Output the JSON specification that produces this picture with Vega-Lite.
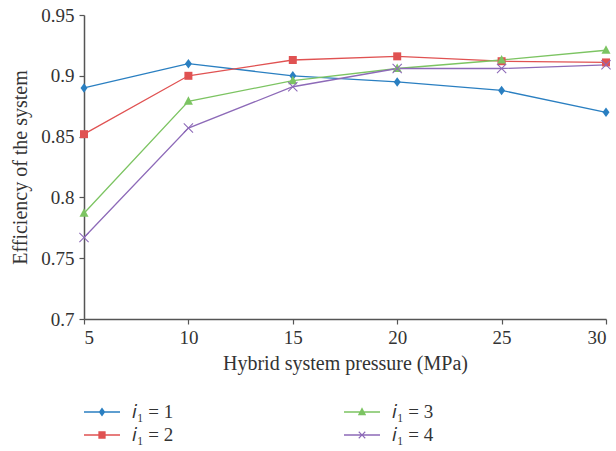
{
  "$schema": "https://vega.github.io/schema/vega-lite/v6.json",
  "width": 522,
  "height": 304,
  "autosize": {"type": "none"},
  "padding": {"left": 84, "top": 15, "right": 10, "bottom": 132},
  "background": "white",
  "config": {
    "view": {"stroke": null},
    "font": "Liberation Serif",
    "axis": {
      "labelFont": "Liberation Serif",
      "titleFont": "Liberation Serif",
      "labelFontSize": 19,
      "titleFontSize": 20,
      "labelColor": "#333333",
      "titleColor": "#333333",
      "titleFontWeight": "normal",
      "domainColor": "#555555",
      "domainWidth": 1.5,
      "tickColor": "#555555",
      "tickWidth": 1.2,
      "tickSize": 5,
      "grid": false
    }
  },
  "data": {
    "values": [
      {"p": 5, "eff": 0.890, "series": "i1 = 1"},
      {"p": 10, "eff": 0.910, "series": "i1 = 1"},
      {"p": 15, "eff": 0.900, "series": "i1 = 1"},
      {"p": 20, "eff": 0.895, "series": "i1 = 1"},
      {"p": 25, "eff": 0.888, "series": "i1 = 1"},
      {"p": 30, "eff": 0.870, "series": "i1 = 1"},
      {"p": 5, "eff": 0.852, "series": "i1 = 2"},
      {"p": 10, "eff": 0.900, "series": "i1 = 2"},
      {"p": 15, "eff": 0.913, "series": "i1 = 2"},
      {"p": 20, "eff": 0.916, "series": "i1 = 2"},
      {"p": 25, "eff": 0.912, "series": "i1 = 2"},
      {"p": 30, "eff": 0.911, "series": "i1 = 2"},
      {"p": 5, "eff": 0.787, "series": "i1 = 3"},
      {"p": 10, "eff": 0.879, "series": "i1 = 3"},
      {"p": 15, "eff": 0.896, "series": "i1 = 3"},
      {"p": 20, "eff": 0.906, "series": "i1 = 3"},
      {"p": 25, "eff": 0.913, "series": "i1 = 3"},
      {"p": 30, "eff": 0.921, "series": "i1 = 3"},
      {"p": 5, "eff": 0.767, "series": "i1 = 4"},
      {"p": 10, "eff": 0.857, "series": "i1 = 4"},
      {"p": 15, "eff": 0.891, "series": "i1 = 4"},
      {"p": 20, "eff": 0.906, "series": "i1 = 4"},
      {"p": 25, "eff": 0.906, "series": "i1 = 4"},
      {"p": 30, "eff": 0.909, "series": "i1 = 4"}
    ]
  },
  "encoding": {
    "x": {
      "field": "p",
      "type": "quantitative",
      "scale": {"domain": [5, 30], "nice": false, "zero": false},
      "axis": {"values": [5, 10, 15, 20, 25, 30], "title": "Hybrid system pressure (MPa)", "titlePadding": 6, "labelPadding": 4}
    },
    "y": {
      "field": "eff",
      "type": "quantitative",
      "scale": {"domain": [0.7, 0.95], "nice": false, "zero": false},
      "axis": {"values": [0.7, 0.75, 0.8, 0.85, 0.9, 0.95], "format": "~g", "title": "Efficiency of the system", "titlePadding": 10, "labelPadding": 5}
    }
  },
  "layer": [
    {
      "mark": {"type": "line", "strokeWidth": 1.3},
      "encoding": {
        "color": {
          "field": "series",
          "type": "nominal",
          "scale": {"domain": ["i1 = 1", "i1 = 2", "i1 = 3", "i1 = 4"], "range": ["#2a7fc1", "#e05252", "#7cc462", "#8d6ab8"]},
          "legend": null
        }
      }
    },
    {
      "mark": {"type": "point", "filled": true, "opacity": 1, "size": 100},
      "encoding": {
        "color": {"field": "series", "type": "nominal", "legend": null},
        "shape": {
          "field": "series",
          "type": "nominal",
          "scale": {
            "domain": ["i1 = 1", "i1 = 2", "i1 = 3", "i1 = 4"],
            "range": [
              "M0,-0.95L0.7,0L0,0.95L-0.7,0Z",
              "M-0.8,-0.8H0.8V0.8H-0.8Z",
              "M0,-1L0.9,0.7L-0.9,0.7Z",
              "M-1,-0.85L-0.85,-1L0,-0.15L0.85,-1L1,-0.85L0.15,0L1,0.85L0.85,1L0,0.15L-0.85,1L-1,0.85L-0.15,0Z"
            ]
          },
          "legend": null
        }
      }
    },
    {
      "mark": {"type": "point", "filled": true, "opacity": 0, "size": 676},
      "encoding": {
        "fill": {
          "field": "series",
          "type": "nominal",
          "scale": {"domain": ["i1 = 1", "i1 = 2", "i1 = 3", "i1 = 4"], "range": ["#2a7fc1", "#e05252", "#7cc462", "#8d6ab8"]},
          "legend": {
            "title": null,
            "orient": "none",
            "legendX": 5,
            "legendY": 384,
            "columns": 2,
            "columnPadding": 169,
            "rowPadding": 0,
            "symbolSize": 676,
            "symbolOpacity": 1,
            "symbolStrokeWidth": 0,
            "labelFont": "Liberation Serif",
            "labelFontSize": 19,
            "labelColor": "#333333",
            "labelOffset": 17,
            "labelExpr": "replace(datum.label, 'i1', '𝑖₁')"
          }
        },
        "shape": {
          "field": "series",
          "type": "nominal",
          "scale": {
            "domain": ["i1 = 1", "i1 = 2", "i1 = 3", "i1 = 4"],
            "range": [
              "M-1.385,-0.05H1.385V0.05H-1.385Z M0,-0.35L0.25,0L0,0.35L-0.25,0Z",
              "M-1.385,-0.05H1.385V0.05H-1.385Z M-0.28,-0.28H0.28V0.28H-0.28Z",
              "M-1.385,-0.05H1.385V0.05H-1.385Z M0,-0.36L0.32,0.25L-0.32,0.25Z",
              "M-1.385,-0.05H1.385V0.05H-1.385Z M-0.28,-0.22L-0.22,-0.28L0,-0.06L0.22,-0.28L0.28,-0.22L0.06,0L0.28,0.22L0.22,0.28L0,0.06L-0.22,0.28L-0.28,0.22L-0.06,0Z"
            ]
          },
          "legend": {
            "title": null,
            "orient": "none",
            "legendX": 5,
            "legendY": 384,
            "columns": 2,
            "columnPadding": 169,
            "rowPadding": 0,
            "symbolSize": 676,
            "symbolOpacity": 1,
            "symbolStrokeWidth": 0,
            "labelFont": "Liberation Serif",
            "labelFontSize": 19,
            "labelColor": "#333333",
            "labelOffset": 17,
            "labelExpr": "replace(datum.label, 'i1', '𝑖₁')"
          }
        }
      }
    }
  ],
  "resolve": {"scale": {"shape": "independent", "fill": "independent"}}
}
